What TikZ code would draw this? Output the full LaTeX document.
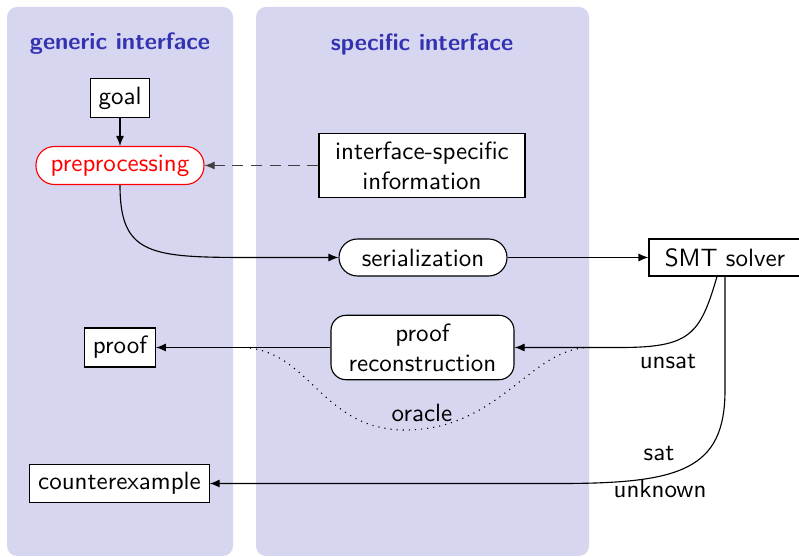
\documentclass[tikz,border=0pt]{standalone}
\usetikzlibrary{arrows.meta,calc}
\definecolor{structc}{rgb}{0.2,0.2,0.7}
\definecolor{colbg}{RGB}{214,214,240}
\tikzset{
  px/.style={x=0.4pt,y=-0.4pt},
  box/.style={draw,fill=white,line width=0.45pt,minimum height=14.8pt,inner sep=3.3pt,font=\sffamily\fontsize{10}{12}\selectfont},
  twobox/.style={box,align=center,minimum height=25.2pt},
  pill/.style={box,rounded corners=7.4pt},
  heading/.style={font=\sffamily\bfseries\fontsize{9.5}{11.4}\selectfont,text=structc},
  lbl/.style={font=\sffamily\fontsize{10}{12}\selectfont},
  arr/.style={-{Latex[length=4pt,width=3.2pt]},line width=0.45pt},
  colbox/.style={fill=colbg,draw=none,rounded corners=4pt}
}
\begin{document}
\begin{tikzpicture}[px]
\useasboundingbox (0,0) rectangle (799,557);
\fill[colbox] (7,7) rectangle (233,556);
\fill[colbox] (256,7) rectangle (589,556);
\node[heading] (h1) at (120,44) {generic interface};
\node[heading] (h2) at (422,44) {specific interface};
\node[box] (goal) at (120,98) {goal};
\node[pill,draw=red,text=red,minimum width=67.2pt] (pre) at (120,165.5) {preprocessing};
\node[twobox,minimum width=82.4pt] (info) at (422,165.5) {interface-specific\\information};
\node[pill,minimum width=67.2pt] (ser) at (423,257.5) {serialization};
\node[box,minimum width=60.8pt] (smt) at (725,257.5) {SMT solver};
\node[twobox,rounded corners=6pt,minimum width=73.2pt] (prc) at (422.5,347.5) {proof\\reconstruction};
\node[box] (proof) at (120,347.5) {proof};
\node[box] (cex) at (119.5,483.5) {counterexample};
\draw[arr] (goal) -- (pre);
\draw[arr,black!75,dash pattern=on 4.5pt off 3pt] (info) -- (pre);
\draw[arr] (pre.south) .. controls (120,255) and (150,257.5) .. (250,257.5) -- (ser.west);
\draw[arr] (ser) -- (smt);
\coordinate (u0) at ($(smt.south)+(-8,0)$);
\coordinate (s0) at ($(smt.south)+(0,0)$);
\draw[arr] (u0) .. controls (700,335) and (690,347.5) .. (620,347.5) -- (prc.east);
\draw[arr] (prc) -- (proof);
\coordinate (oa) at (590,347.5);
\coordinate (ob) at (240,347.5);
\coordinate (om) at (405,430);
\draw[dotted,line width=0.45pt] (oa) .. controls (530,347.5) and (500,430) .. (om) .. controls (320,430) and (310,347.5) .. (ob);
\draw[arr] (s0) -- (725,390) .. controls (725,470) and (680,483.5) .. (560,483.5) -- (cex.east);
\node[lbl] (unsat) at (668,362) {unsat};
\node[lbl] (sat) at (659,454) {sat};
\node[lbl] (unk) at (660,489) {unknown};
\node[lbl] (orc) at (422,413) {oracle};
\end{tikzpicture}
\end{document}
